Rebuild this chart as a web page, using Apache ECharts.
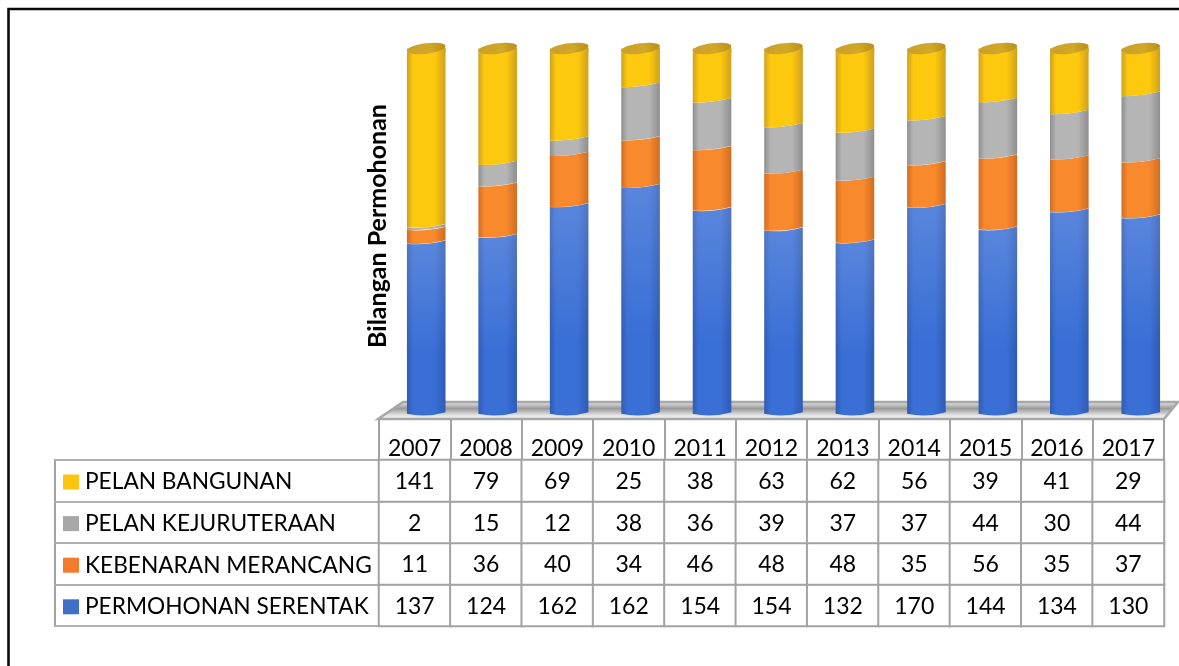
<!DOCTYPE html>
<html>
<head>
<meta charset="utf-8">
<style>html,body{margin:0;padding:0;background:#fff}#c{width:1179px;height:666px;filter:blur(0.4px)}</style>
<script src="https://cdn.jsdelivr.net/npm/echarts@6/dist/echarts.min.js"></script>
</head>
<body>
<div id="c"></div>
<script>
const years = ['2007','2008','2009','2010','2011','2012','2013','2014','2015','2016','2017'];
const permohonanSerentak = [137,124,162,162,154,154,132,170,144,134,130];
const kebenaranMerancang = [11,36,40,34,46,48,48,35,56,35,37];
const pelanKejuruteraan = [2,15,12,38,36,39,37,37,44,30,44];
const pelanBangunan = [141,79,69,25,38,63,62,56,39,41,29];
const seriesNames = ['PERMOHONAN SERENTAK','KEBENARAN MERANCANG','PELAN KEJURUTERAAN','PELAN BANGUNAN'];
const axisTitle = 'Bilangan Permohonan';

const FONT = 'Lato, "Open Sans", sans-serif';
const TABLE = '#a3a3a3';
const rows = [permohonanSerentak, kebenaranMerancang, pelanKejuruteraan, pelanBangunan];
const looks = [
  {edge:'#2f5bb4', mid:'#3a6fd6', key:'#3f6fc8', sheen:0.16},
  {edge:'#d06d22', mid:'#f8892c', key:'#f37b2e', sheen:0},
  {edge:'#8e8e8e', mid:'#b5b5b5', key:'#a8a8a8', sheen:0},
  {edge:'#d0a01c', mid:'#fdc90e', key:'#fcc50e', sheen:0}
];
const totals = years.map((_, i) => rows.reduce((s, r) => s + r[i], 0));

function across(look) {
  return new echarts.graphic.LinearGradient(0, 0, 1, 0, [
    {offset:0, color:look.edge},
    {offset:0.16, color:look.mid},
    {offset:0.72, color:look.mid},
    {offset:1, color:look.edge}
  ]);
}

function cylinder(seriesIndex) {
  const look = looks[seriesIndex];
  return function (params, api) {
    const i = api.value(0), p0 = api.value(1), p1 = api.value(2);
    const bw = api.size([1, 0])[0] * 0.54;
    const base = api.coord([i, p0]), top = api.coord([i, p1]);
    const cx = base[0], l = cx - bw / 2, r = cx + bw / 2;
    const tilt = p => 0.8 + 1.8 * p, bulge = p => 2.5 - 1.5 * p;
    const d =
      `M${l} ${top[1] + tilt(p1)} Q${cx} ${top[1] + 2 * bulge(p1)} ${r} ${top[1] - tilt(p1)} ` +
      `L${r} ${base[1] - tilt(p0)} Q${cx} ${base[1] + 2 * bulge(p0)} ${l} ${base[1] + tilt(p0)} Z`;
    const box = {x:l, y:top[1] - tilt(p1), width:bw, height:base[1] + Math.max(tilt(p0), bulge(p0)) - top[1] + tilt(p1)};
    const children = [{
      type:'path', shape:Object.assign({pathData:d, layout:'cover'}, box),
      style:{fill:across(look)}
    }];
    if (look.sheen) {
      children.push({
        type:'path', shape:Object.assign({pathData:d, layout:'cover'}, box),
        style:{fill:new echarts.graphic.LinearGradient(0, 0, 0, 1, [
          {offset:0, color:'rgba(255,255,255,' + look.sheen + ')'},
          {offset:0.65, color:'rgba(255,255,255,0)'}
        ])}
      });
    }
    if (seriesIndex === rows.length - 1) {
      const capY = top[1] - 1.5;
      children.unshift({
        type:'rect', shape:{x:l, y:capY, width:bw, height:4},
        style:{fill:across(look)}
      });
      children.push({
        type:'ellipse', originX:cx, originY:capY, rotation:0.13,
        shape:{cx:cx, cy:capY, rx:bw / 2 + 0.2, ry:5.2},
        style:{fill:new echarts.graphic.LinearGradient(0, 0, 1, 0, [
          {offset:0, color:'#c9a02a'},{offset:0.6, color:'#d2a826'},{offset:1, color:'#b98e1c'}
        ])}
      });
    }
    return {type:'group', children};
  };
}

const barSeries = rows.map((row, s) => ({
  name: seriesNames[s],
  type: 'custom',
  xAxisIndex: 0, yAxisIndex: 0,
  clip: false,
  itemStyle: {color: looks[s].key},
  encode: {x: 0, y: [1, 2]},
  renderItem: cylinder(s),
  data: row.map((v, i) => {
    const below = rows.slice(0, s).reduce((a, r) => a + r[i], 0);
    return [i, below / totals[i], (below + v) / totals[i]];
  })
}));

const tableData = [];
rows.forEach((row, s) => row.forEach((v, i) => tableData.push([i, s, v])));

const option = {
  animation: false,
  backgroundColor: '#fff',
  textStyle: {fontFamily: FONT},
  grid: [
    {left: 390.5, top: 50, width: 786, height: 363},
    {left: 379, top: 460, width: 785, height: 166}
  ],
  xAxis: [
    {gridIndex: 0, type: 'category', data: years, show: false},
    {gridIndex: 1, type: 'category', data: years, position: 'top',
      axisLine: {show: true, lineStyle: {color: TABLE, width: 2}},
      axisTick: {show: true, length: 40, alignWithLabel: false, interval: 0, lineStyle: {color: TABLE, width: 2}},
      axisLabel: {color: '#000', fontFamily: FONT, fontSize: 23, margin: 0, interval: 0},
      splitLine: {show: false}}
  ],
  yAxis: [
    {gridIndex: 0, type: 'value', min: 0, max: 1,
      name: axisTitle, nameLocation: 'middle', nameRotate: 90, nameGap: 0,
      nameTextStyle: {color: '#000', fontFamily: FONT, fontWeight: 'bold', fontSize: 25, padding: [0, 0, 0, 11]},
      axisLine: {show: false}, axisTick: {show: false}, axisLabel: {show: false}, splitLine: {show: false}},
    {gridIndex: 1, type: 'category', data: seriesNames,
      axisLine: {show: true, lineStyle: {color: TABLE, width: 2}},
      axisTick: {show: true, length: 324, alignWithLabel: false, interval: 0, lineStyle: {color: '#b0b0b0', width: 2}},
      axisLabel: {show: false}, splitLine: {show: false}}
  ],
  legend: {
    data: seriesNames.slice().reverse(),
    orient: 'vertical', left: 58, top: 465.5,
    itemWidth: 16, itemHeight: 15, itemGap: 18.6,
    selectedMode: false, icon: 'rect',
    textStyle: {color: '#000', fontFamily: FONT, fontSize: 22.7, lineHeight: 22, padding: [0, 0, 0, 1]}
  },
  graphic: [
    {type: 'polygon', z: 0, silent: true,
      shape: {points: [[378, 419], [403, 402], [1178, 402], [1164, 419]]},
      style: {stroke: '#a8a8a8', lineWidth: 2.5,
        fill: new echarts.graphic.LinearGradient(0, 0, 0, 1, [
          {offset: 0, color: '#f4f4f4'}, {offset: 0.4, color: '#9a9a9a'}, {offset: 0.75, color: '#e4e4e4'}, {offset: 1, color: '#f8f8f8'}
        ])}},
    {type: 'polyline', z: 0, silent: true,
      shape: {points: [[8.5, 666], [8.5, 9], [1179, 9]]},
      style: {stroke: '#0a0a0a', lineWidth: 2.6, fill: null}},
    {type: 'line', z: 0, silent: true,
      shape: {x1: 55, y1: 459, x2: 55, y2: 627},
      style: {stroke: TABLE, lineWidth: 2}}
  ],
  series: barSeries.concat([{
    type: 'heatmap', xAxisIndex: 1, yAxisIndex: 1, data: tableData,
    itemStyle: {color: '#fff', borderColor: TABLE, borderWidth: 2},
    label: {show: true, color: '#000', fontFamily: FONT, fontSize: 23, offset: [0, 1], formatter: p => p.value[2]},
    silent: true
  }])
};
echarts.init(document.getElementById('c'), null, {renderer: 'canvas'}).setOption(option);
</script>
</body>
</html>
